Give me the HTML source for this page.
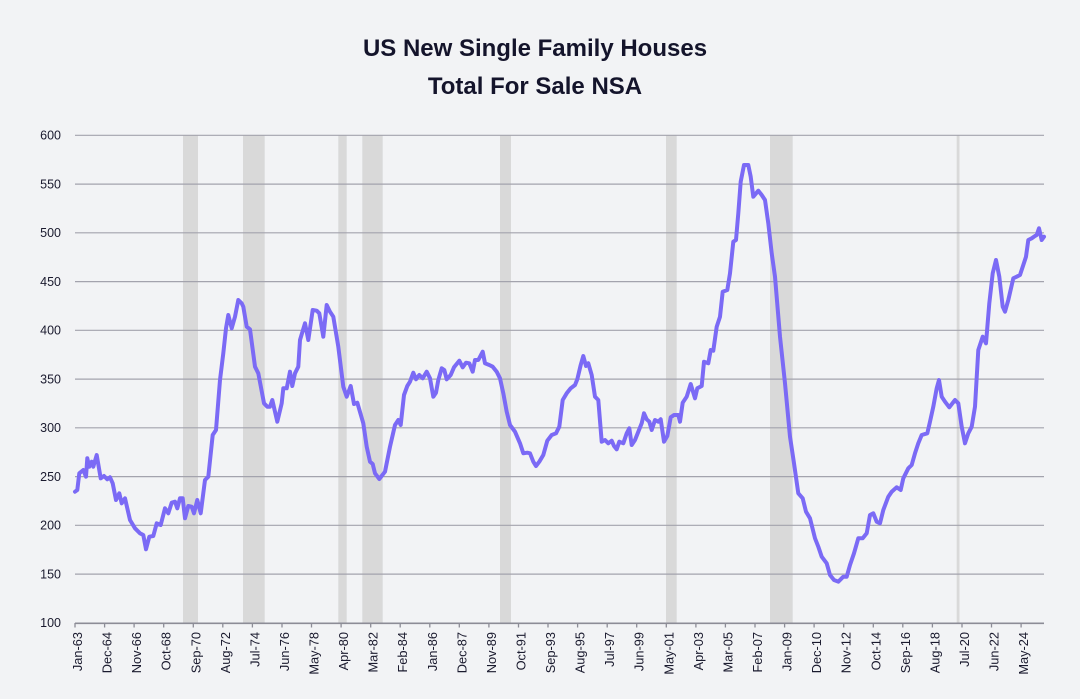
<!DOCTYPE html>
<html>
<head>
<meta charset="utf-8">
<style>
  html, body { margin:0; padding:0; background:#f2f3f5; }
  svg { display:block; }
  text { font-family: "Liberation Sans", "DejaVu Sans", sans-serif; fill:#1a1a2e; }
</style>
</head>
<body>
<svg width="1080" height="699" viewBox="0 0 1080 699" xmlns="http://www.w3.org/2000/svg">
  <rect x="0" y="0" width="1080" height="699" fill="#f2f3f5"/>

  <!-- Title -->
  <text x="535" y="56" text-anchor="middle" font-size="24" font-weight="bold" style="fill:#14142b">US New Single Family Houses</text>
  <text x="535" y="94" text-anchor="middle" font-size="24" font-weight="bold" style="fill:#14142b">Total For Sale NSA</text>

  <!-- Recession bands -->
  <g fill="#d9d9d9">
    <rect x="183" y="135" width="15" height="488"/>
    <rect x="243" y="135" width="21.7" height="488"/>
    <rect x="338.3" y="135" width="8.4" height="488"/>
    <rect x="362.3" y="135" width="20.4" height="488"/>
    <rect x="500" y="135" width="11" height="488"/>
    <rect x="666" y="135" width="10.7" height="488"/>
    <rect x="770" y="135" width="22.7" height="488"/>
    <rect x="956.7" y="135" width="2.8" height="488"/>
  </g>

  <!-- Gridlines -->
  <g stroke="#a3a3ad" stroke-width="1.2">
    <line x1="75" x2="1044" y1="135.3" y2="135.3"/>
    <line x1="75" x2="1044" y1="184.1" y2="184.1"/>
    <line x1="75" x2="1044" y1="232.8" y2="232.8"/>
    <line x1="75" x2="1044" y1="281.6" y2="281.6"/>
    <line x1="75" x2="1044" y1="330.3" y2="330.3"/>
    <line x1="75" x2="1044" y1="379.1" y2="379.1"/>
    <line x1="75" x2="1044" y1="427.8" y2="427.8"/>
    <line x1="75" x2="1044" y1="476.6" y2="476.6"/>
    <line x1="75" x2="1044" y1="525.3" y2="525.3"/>
    <line x1="75" x2="1044" y1="574.1" y2="574.1"/>
  </g>
  <!-- x axis -->
  <line x1="75" x2="1044" y1="623.3" y2="623.3" stroke="#8c8c96" stroke-width="1.6"/>

  <!-- Y labels -->
  <g font-size="12.5" text-anchor="end">
    <text x="61" y="139.5">600</text>
    <text x="61" y="188.3">550</text>
    <text x="61" y="237">500</text>
    <text x="61" y="285.8">450</text>
    <text x="61" y="334.5">400</text>
    <text x="61" y="383.3">350</text>
    <text x="61" y="432">300</text>
    <text x="61" y="480.8">250</text>
    <text x="61" y="529.5">200</text>
    <text x="61" y="578.3">150</text>
    <text x="61" y="627">100</text>
  </g>

  <!-- Ticks and X labels -->
  <g id="xt"></g>

  <!-- Series -->
  <polyline fill="none" stroke="#7b6af5" stroke-width="4" stroke-linejoin="round" stroke-linecap="round" points="
75,491.7 77.3,490 79.3,473.3 83.3,470 86,476.7 87.3,458.3 89.3,466.7 91.7,461.7 93.3,466.7 96.7,455 100.7,478.3 104,476 107.3,479.3 110,477.3 112.7,483.3 116,500 119.3,493.3 121.7,503.3 125,498.3 130,520 135,528.3 140,533.3 143.3,535 146,549.3 149.3,536.7 153.3,536 156.7,523.3 160.7,525 165,508.3 168.3,513.3 171.7,502.7 175,501.7 177.3,508.3 180,498.3 182.7,498.3 185,518.3 188.3,506 191.7,506.7 194,513.3 197.3,500 200.7,513.3 205,480 208.3,476.7 212.7,435 216,430 220,380 223.3,353.3 226,328.3 228.3,315 231.7,328.3 235,316.7 238.3,300 241.7,303.3 243.3,306.7 246.7,326.7 250,329.3 255,366.7 258.3,373.3 264,403.3 267.3,406.7 270,406.7 272.3,400 277.3,421.7 281.7,403.3 283.3,388.3 286.7,388.3 290,371.7 292.3,386 295,373.3 298.3,366.7 300,340 305,323.3 308.3,340 312.7,310 316.7,310.7 319.3,313.3 323.3,336.7 326.7,305 330,311.7
333.3,316.7 338.3,346.7 343.3,386.7 346.7,396.7 350.7,386 354,404 357.3,402.7 363.3,423.3 366.7,446.7 370,461.7 372.7,464 375,473.3 379.3,479 385,471.7 390,446.7 395,425 398.3,420 400.7,425 404,395 407.3,386 410,381.7 413.3,372.7 416,379.3 419.3,375 422.7,378.3 426.7,371.7 430,378.3 433.3,396.7 436,392.7 438.3,380 441.7,368.3 444.3,370 446.7,379.3 450.7,375 454,367.3 459.3,360.7 462.7,367.3 466,362.7 469.3,363.3 472.7,371.7 475,360 478.3,360 482.7,351.7 485,363.3 489.3,365 492.7,366.7 496.7,371.7 500,378.3 503.3,393.3 506.7,411.7 510,425 515,431.7 520,443.3 523.3,453.3 527.3,452.7 530,453.3 533.3,461.7 536,466 539.3,461.7 543.3,455 547.3,440.7 551.7,435 556,433.3 559.3,426.7 562.7,400 566.7,393.3 570.7,388.3 575,385 577.3,379.3 580.7,365 583.3,356 586,366 588.3,363.3 591.7,375 595,396.7 598.3,400 601.7,441.7 605,440 608.3,443.3 611.7,440.7 614,446 616.7,449.3 619.3,441.7 623.3,443.3 626.7,433.3 629.3,428.3 631.7,445 635,440 638.3,431.7 641.7,423.3 644,413.3 646.7,419.3 649.3,421.7 651.7,430 655,420 658.3,421.7 660.7,419.3 664,441.7 667.3,436 670.7,417.3 674,415 678.3,415 680,421.7
682.7,402.7 686.7,396.7 690.7,384 695,398.3 697.3,388.3 701.7,386 704,361.7 708.3,363.3 710.7,350 713.3,350.7 716.7,326.7 720,316.7 722.7,291.7 727.3,290 730,273.3 733.3,241.7 736,240 738.3,213.3 740.7,181.7 744,165 748.3,165 750.7,176.7 753.3,196.7 758.3,190.7 761.7,195 765,200 768.3,223.3 771.7,253.3 775,276.7 780,336.7 785,383.3 790,436.7 794,463.3 798.3,493.3 802.7,498.3 806,511.7 810,518.3 815,538.3 818.3,546.7 821.7,556.7 826.7,563.3 830,575 834,580 838.3,581.7 843.3,576.7 846.7,576.7 850,565 854,553.3 858.3,538.3 862.7,538.3 866.7,533.3
870,515 873.3,513.3 876.7,521.7 880,523.3 883.3,510 888.3,496.7 891.7,491.7 896.7,487.3 900.7,490 903.3,478.3 908.3,468.3 911.7,465 915,453.3 918.3,443.3 921.7,435 927.3,433.3 930,421.7 933.3,406.7 936.7,388.3 939,380 941.7,396.7 945,401.7 949.3,407.3 955,400 958.3,403.3 961.7,426.7 965,443.3 968.3,433.3 971.7,426.7 975,406.7 978.3,350 982.7,336.7 986,343.3 989.3,303.3 992.7,273.3 996,260 999.3,276.7 1002.7,306.7 1005,311.7 1008.3,300 1013.3,278.3 1016.7,276.7 1020,275 1023.3,265 1026,256.7 1028.3,240 1031.7,238.3 1035,236 1036.7,235 1039,228.3 1041.7,240 1044,236.7"/>

  <g font-size="12.8">
    <text transform="translate(82,632) rotate(-90)" text-anchor="end">Jan-63</text>
    <text transform="translate(111.6,632) rotate(-90)" text-anchor="end">Dec-64</text>
    <text transform="translate(141.1,632) rotate(-90)" text-anchor="end">Nov-66</text>
    <text transform="translate(170.7,632) rotate(-90)" text-anchor="end">Oct-68</text>
    <text transform="translate(200.3,632) rotate(-90)" text-anchor="end">Sep-70</text>
    <text transform="translate(229.8,632) rotate(-90)" text-anchor="end">Aug-72</text>
    <text transform="translate(259.4,632) rotate(-90)" text-anchor="end">Jul-74</text>
    <text transform="translate(289,632) rotate(-90)" text-anchor="end">Jun-76</text>
    <text transform="translate(318.5,632) rotate(-90)" text-anchor="end">May-78</text>
    <text transform="translate(348.1,632) rotate(-90)" text-anchor="end">Apr-80</text>
    <text transform="translate(377.7,632) rotate(-90)" text-anchor="end">Mar-82</text>
    <text transform="translate(407.2,632) rotate(-90)" text-anchor="end">Feb-84</text>
    <text transform="translate(436.8,632) rotate(-90)" text-anchor="end">Jan-86</text>
    <text transform="translate(466.3,632) rotate(-90)" text-anchor="end">Dec-87</text>
    <text transform="translate(495.9,632) rotate(-90)" text-anchor="end">Nov-89</text>
    <text transform="translate(525.5,632) rotate(-90)" text-anchor="end">Oct-91</text>
    <text transform="translate(555,632) rotate(-90)" text-anchor="end">Sep-93</text>
    <text transform="translate(584.6,632) rotate(-90)" text-anchor="end">Aug-95</text>
    <text transform="translate(614.2,632) rotate(-90)" text-anchor="end">Jul-97</text>
    <text transform="translate(643.7,632) rotate(-90)" text-anchor="end">Jun-99</text>
    <text transform="translate(673.3,632) rotate(-90)" text-anchor="end">May-01</text>
    <text transform="translate(702.9,632) rotate(-90)" text-anchor="end">Apr-03</text>
    <text transform="translate(732.4,632) rotate(-90)" text-anchor="end">Mar-05</text>
    <text transform="translate(762,632) rotate(-90)" text-anchor="end">Feb-07</text>
    <text transform="translate(791.6,632) rotate(-90)" text-anchor="end">Jan-09</text>
    <text transform="translate(821.1,632) rotate(-90)" text-anchor="end">Dec-10</text>
    <text transform="translate(850.7,632) rotate(-90)" text-anchor="end">Nov-12</text>
    <text transform="translate(880.3,632) rotate(-90)" text-anchor="end">Oct-14</text>
    <text transform="translate(909.8,632) rotate(-90)" text-anchor="end">Sep-16</text>
    <text transform="translate(939.4,632) rotate(-90)" text-anchor="end">Aug-18</text>
    <text transform="translate(969,632) rotate(-90)" text-anchor="end">Jul-20</text>
    <text transform="translate(998.5,632) rotate(-90)" text-anchor="end">Jun-22</text>
    <text transform="translate(1028.1,632) rotate(-90)" text-anchor="end">May-24</text>
  </g>

  <g stroke="#8c8c96" stroke-width="1.3">
    <line x1="75" x2="75" y1="623" y2="627.5"/>
    <line x1="104.6" x2="104.6" y1="623" y2="627.5"/>
    <line x1="134.1" x2="134.1" y1="623" y2="627.5"/>
    <line x1="163.7" x2="163.7" y1="623" y2="627.5"/>
    <line x1="193.3" x2="193.3" y1="623" y2="627.5"/>
    <line x1="222.8" x2="222.8" y1="623" y2="627.5"/>
    <line x1="252.4" x2="252.4" y1="623" y2="627.5"/>
    <line x1="282" x2="282" y1="623" y2="627.5"/>
    <line x1="311.5" x2="311.5" y1="623" y2="627.5"/>
    <line x1="341.1" x2="341.1" y1="623" y2="627.5"/>
    <line x1="370.7" x2="370.7" y1="623" y2="627.5"/>
    <line x1="400.2" x2="400.2" y1="623" y2="627.5"/>
    <line x1="429.8" x2="429.8" y1="623" y2="627.5"/>
    <line x1="459.3" x2="459.3" y1="623" y2="627.5"/>
    <line x1="488.9" x2="488.9" y1="623" y2="627.5"/>
    <line x1="518.5" x2="518.5" y1="623" y2="627.5"/>
    <line x1="548" x2="548" y1="623" y2="627.5"/>
    <line x1="577.6" x2="577.6" y1="623" y2="627.5"/>
    <line x1="607.2" x2="607.2" y1="623" y2="627.5"/>
    <line x1="636.7" x2="636.7" y1="623" y2="627.5"/>
    <line x1="666.3" x2="666.3" y1="623" y2="627.5"/>
    <line x1="695.9" x2="695.9" y1="623" y2="627.5"/>
    <line x1="725.4" x2="725.4" y1="623" y2="627.5"/>
    <line x1="755" x2="755" y1="623" y2="627.5"/>
    <line x1="784.6" x2="784.6" y1="623" y2="627.5"/>
    <line x1="814.1" x2="814.1" y1="623" y2="627.5"/>
    <line x1="843.7" x2="843.7" y1="623" y2="627.5"/>
    <line x1="873.3" x2="873.3" y1="623" y2="627.5"/>
    <line x1="902.8" x2="902.8" y1="623" y2="627.5"/>
    <line x1="932.4" x2="932.4" y1="623" y2="627.5"/>
    <line x1="962" x2="962" y1="623" y2="627.5"/>
    <line x1="991.5" x2="991.5" y1="623" y2="627.5"/>
    <line x1="1021.1" x2="1021.1" y1="623" y2="627.5"/>
  </g>
</svg>
</body>
</html>
